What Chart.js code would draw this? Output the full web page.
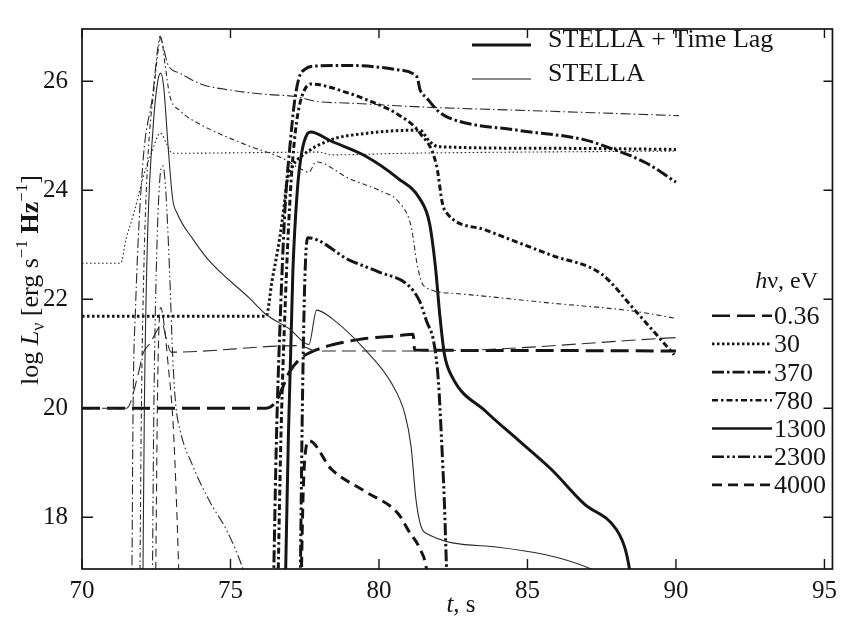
<!DOCTYPE html>
<html><head><meta charset="utf-8">
<script src="https://cdn.jsdelivr.net/npm/chart.js@4.4.1/dist/chart.umd.min.js"></script>
<style>html,body{margin:0;padding:0;background:#fff;} #wrap{width:844px;height:618px;position:relative;}</style>
</head><body><div id="wrap"><canvas id="c" width="844" height="618"></canvas></div>
<script>
// ---------- data ----------
const energies = ['0.36', '30', '370', '780', '1300', '2300', '4000'];
const xTickValues = [70, 75, 80, 85, 90, 95];
const yTickValues = [18, 20, 22, 24, 26];
const modelNames = ['STELLA + Time Lag', 'STELLA'];

// STELLA + Time Lag  [t (s), log L]
const lag036 = [[70,20.0],[76.2,20.0],[76.53,20.12],[76.74,20.36],[76.97,20.65],[77.31,20.89],[77.88,21.07],[78.4,21.16],[79.54,21.28],[80.64,21.33],[81.15,21.36],[81.2,21.07],[85,21.06],[90,21.05]];
const lag30 = [[70,21.69],[76.2,21.69],[76.4,22.34],[76.65,23.1],[76.8,23.69],[76.9,24.15],[77.1,24.45],[77.4,24.63],[78.4,24.93],[79.5,25.04],[81.0,25.1],[81.38,25.1],[81.7,24.9],[82.0,24.8],[86,24.77],[90,24.75]];
const lag370 = [[76.45,16.8],[76.55,19.5],[76.7,22.0],[76.85,23.8],[77.0,24.8],[77.15,25.6],[77.3,26.05],[77.5,26.22],[77.9,26.28],[79.0,26.29],[80.5,26.22],[81.2,26.12],[81.3,26.05],[81.38,25.85],[81.6,25.7],[82.0,25.45],[82.4,25.32],[84.7,25.1],[86.9,24.93],[87.8,24.77],[89.0,24.5],[90.0,24.15]];
const lag780 = [[76.6,16.8],[76.7,19.5],[76.85,22.0],[77.0,23.8],[77.15,24.9],[77.3,25.5],[77.5,25.85],[77.7,25.95],[79.0,25.78],[79.5,25.68],[80.64,25.39],[81.38,25.05],[81.94,24.45],[82.14,23.75],[82.3,23.57],[83.6,23.27],[85.8,22.81],[87.5,22.46],[88.6,21.81],[89.94,20.98]];
const lag1300 = [[76.85,16.8],[76.95,19.5],[77.1,22.5],[77.25,24.0],[77.4,24.7],[77.58,25.03],[77.7,25.07],[78.4,24.9],[79.54,24.63],[80.64,24.22],[81.38,23.84],[81.7,23.4],[81.9,22.6],[82.05,21.7],[82.2,21.0],[82.45,20.59],[83.6,19.94],[84.7,19.41],[85.8,18.88],[86.9,18.25],[88.0,17.77],[88.3,17.4],[88.45,17.0],[88.5,16.8]];
const lag2300 = [[77.35,16.8],[77.42,20.0],[77.5,22.3],[77.6,23.13],[79.0,22.72],[80.0,22.5],[81.0,22.25],[81.38,21.95],[81.6,21.6],[81.85,21.2],[82.0,20.5],[82.1,19.5],[82.2,18.3],[82.28,17.0],[82.3,16.8]];
const lag4000 = [[77.38,16.8],[77.45,18.5],[77.55,19.3],[77.65,19.4],[78.4,18.88],[79.54,18.47],[80.64,18.07],[81.0,17.75],[81.38,17.42],[81.6,17.05],[81.65,16.8]];

// STELLA
const st036 = [[70,20.0],[71.5,20.0],[71.9,20.64],[72.05,21.0],[72.3,21.2],[72.55,21.45],[72.7,21.55],[72.85,21.25],[73.0,21.03],[77.3,21.15],[77.9,21.05],[81.4,21.05],[90.1,21.3]];
const st30 = [[70,22.66],[71.3,22.66],[71.48,23.1],[71.74,23.57],[71.91,23.92],[72.08,24.28],[72.35,24.7],[72.64,25.05],[72.85,24.85],[73.04,24.68],[78,24.7],[78.4,24.65],[81,24.68],[90,24.72]];
const st370 = [[71.68,16.8],[71.72,20.0],[71.8,21.8],[72.05,24.5],[72.38,25.75],[72.55,26.6],[72.63,26.83],[72.75,26.6],[72.9,26.3],[73.3,26.15],[74.0,25.95],[75.1,25.83],[76.2,25.76],[77.2,25.72],[77.9,25.63],[79.0,25.6],[81.4,25.53],[85.8,25.45],[90.1,25.37]];
const st780 = [[71.95,16.8],[72.0,20.0],[72.08,22.5],[72.2,24.4],[72.45,26.0],[72.6,26.7],[72.66,26.8],[72.8,26.3],[72.95,25.75],[73.3,25.46],[73.75,25.28],[74.5,25.07],[75.64,24.81],[76.74,24.59],[77.4,24.38],[77.64,24.33],[77.88,24.52],[78.98,24.22],[80.08,23.98],[80.64,23.8],[81.08,23.34],[81.3,22.6],[81.5,22.25],[82.48,22.11],[85.8,21.93],[88.6,21.78],[90.0,21.65]];
const st1300 = [[72.05,16.8],[72.1,20.0],[72.2,23.0],[72.4,25.2],[72.55,26.0],[72.65,26.15],[72.75,25.9],[72.9,24.8],[73.05,23.85],[73.21,23.57],[73.74,23.1],[74.31,22.69],[75.64,22.02],[76.2,21.72],[77.0,21.45],[77.64,21.17],[77.9,21.8],[78.41,21.65],[79.54,21.07],[80.41,20.47],[80.88,19.88],[81.08,19.3],[81.24,18.35],[81.38,17.9],[81.54,17.72],[84.0,17.45],[87.15,17.05],[87.3,17.0]];
const st2300 = [[72.37,16.8],[72.42,20.0],[72.5,22.5],[72.62,24.2],[72.72,24.45],[72.82,24.0],[72.95,22.5],[73.05,21.0],[73.15,20.1],[73.3,19.6],[73.74,18.93],[74.31,18.28],[74.88,17.75],[75.42,17.05],[75.5,16.9]];
const st4000 = [[72.48,16.8],[72.55,20.5],[72.65,21.85],[72.75,21.6],[72.9,20.8],[73.07,19.7],[73.2,18.0],[73.27,16.8]];

const lagSeries = [lag036, lag30, lag370, lag780, lag1300, lag2300, lag4000];
const stSeries = [st036, st30, st370, st780, st1300, st2300, st4000];

// ---------- styles ----------
const dashThick = [[18,7],[2.5,2.5],[12,3,2.5,3],[6,3,2.5,3],[],[12,3,2.5,3,2.5,3],[10,6]];
const dashThin  = [[14,6],[1.6,2.4],[10,3,1.6,3],[5,3,1.6,3],[],[10,3,1.6,3,1.6,3],[8,5]];
const INK = '#151515';
const SERIF = '"Liberation Serif", "Times New Roman", serif';

const datasets = [];
stSeries.forEach((s, i) => datasets.push({
  label: modelNames[1] + ' ' + energies[i] + ' eV',
  data: s.map(([x, y]) => ({x, y})),
  borderColor: '#2a2a2a', borderWidth: 1.1, borderDash: dashThin[i],
  pointRadius: 0, fill: false, cubicInterpolationMode: 'monotone'
}));
lagSeries.forEach((s, i) => datasets.push({
  label: modelNames[0] + ' ' + energies[i] + ' eV',
  data: s.map(([x, y]) => ({x, y})),
  borderColor: INK, borderWidth: 3, borderDash: dashThick[i],
  pointRadius: 0, fill: false, cubicInterpolationMode: 'monotone'
}));

function drawRuns(ctx, runs, x0, y0) {
  let x = x0;
  runs.forEach(r => {
    ctx.font = r.font;
    ctx.fillText(r.text, x, y0 + (r.dy || 0));
    x += ctx.measureText(r.text).width;
  });
  return x - x0;
}
function runsWidth(ctx, runs) {
  let w = 0;
  runs.forEach(r => { ctx.font = r.font; w += ctx.measureText(r.text).width; });
  return w;
}

const decor = {
  id: 'decor',
  afterDatasetsDraw(chart) {
    const {ctx, chartArea: a, scales: {x, y}} = chart;
    ctx.save();
    ctx.strokeStyle = INK;
    ctx.lineWidth = 1.7;
    ctx.strokeRect(a.left, a.top, a.right - a.left, a.bottom - a.top);
    ctx.lineWidth = 1.4;
    ctx.beginPath();
    xTickValues.forEach(v => {
      const px = x.getPixelForValue(v);
      ctx.moveTo(px, a.bottom); ctx.lineTo(px, a.bottom - 10);
      ctx.moveTo(px, a.top); ctx.lineTo(px, a.top + 9);
    });
    yTickValues.forEach(v => {
      const py = y.getPixelForValue(v);
      ctx.moveTo(a.left, py); ctx.lineTo(a.left + 11, py);
      ctx.moveTo(a.right, py); ctx.lineTo(a.right - 9, py);
    });
    ctx.stroke();
    ctx.restore();
  },
  afterDraw(chart) {
    const ctx = chart.ctx;
    const ds = chart.data.datasets;
    ctx.save();
    ctx.fillStyle = INK;
    ctx.strokeStyle = INK;
    ctx.textBaseline = 'alphabetic';
    ctx.textAlign = 'left';

    // model legend
    const mY = [45, 79];
    const mW = [3, 1.2];
    modelNames.forEach((n, i) => {
      ctx.lineWidth = mW[i];
      ctx.setLineDash([]);
      ctx.beginPath(); ctx.moveTo(472, mY[i]); ctx.lineTo(531, mY[i]); ctx.stroke();
      ctx.font = '26px ' + SERIF;
      ctx.fillText(n, 548, mY[i] + 2);
    });

    // energy legend
    const hRuns = [{text: 'h', font: 'italic 24px ' + SERIF}, {text: 'ν, eV', font: '24px ' + SERIF}];
    const hw = runsWidth(ctx, hRuns);
    drawRuns(ctx, hRuns, 818 - hw, 288);
    energies.forEach((e, i) => {
      const ly = 315.7 + 28.2 * i;
      const d = ds[stSeries.length + i];
      ctx.lineWidth = 2.6;
      ctx.setLineDash(d.borderDash);
      ctx.beginPath(); ctx.moveTo(712, ly); ctx.lineTo(772, ly); ctx.stroke();
      ctx.setLineDash([]);
      ctx.font = '26px ' + SERIF;
      ctx.fillText(e, 774, ly + 8.5);
    });

    // x title
    const xRuns = [{text: 't', font: 'italic 25px ' + SERIF}, {text: ', s', font: '25px ' + SERIF}];
    const xw = runsWidth(ctx, xRuns);
    drawRuns(ctx, xRuns, 461 - xw / 2, 612);

    // y title (rotated)
    const yRuns = [
      {text: 'log ', font: '26px ' + SERIF},
      {text: 'L', font: 'italic 26px ' + SERIF},
      {text: 'ν', font: '18px ' + SERIF, dy: 6},
      {text: ' [erg s', font: '26px ' + SERIF},
      {text: '−1', font: '17px ' + SERIF, dy: -11},
      {text: ' Hz', font: 'bold 26px ' + SERIF},
      {text: '−1', font: '17px ' + SERIF, dy: -11},
      {text: ']', font: '26px ' + SERIF}
    ];
    const yw = runsWidth(ctx, yRuns);
    ctx.translate(38, 280 + yw / 2);
    ctx.rotate(-Math.PI / 2);
    drawRuns(ctx, yRuns, 0, 0);
    ctx.restore();
  }
};

new Chart(document.getElementById('c'), {
  type: 'line',
  data: {datasets},
  options: {
    responsive: false,
    animation: false,
    devicePixelRatio: 1,
    layout: {padding: {top: 8, right: 5, left: 0, bottom: 0}},
    plugins: {legend: {display: false}, tooltip: {enabled: false}},
    scales: {
      x: {
        type: 'linear', min: 70, max: 95.27,
        afterBuildTicks: s => { s.ticks = xTickValues.map(v => ({value: v})); },
        afterFit: s => { s.height = 49; },
        grid: {display: false, drawTicks: false},
        border: {display: false},
        ticks: {font: {family: SERIF, size: 25}, color: INK, padding: 7, autoSkip: false, maxRotation: 0, callback: v => String(v)}
      },
      y: {
        type: 'linear', min: 17.05, max: 26.96,
        afterBuildTicks: s => { s.ticks = yTickValues.map(v => ({value: v})); },
        afterFit: s => { s.width = 82; },
        grid: {display: false, drawTicks: false},
        border: {display: false},
        ticks: {font: {family: SERIF, size: 25}, color: INK, padding: 14, autoSkip: false, callback: v => String(v)}
      }
    }
  },
  plugins: [decor]
});
</script>
</body></html>
